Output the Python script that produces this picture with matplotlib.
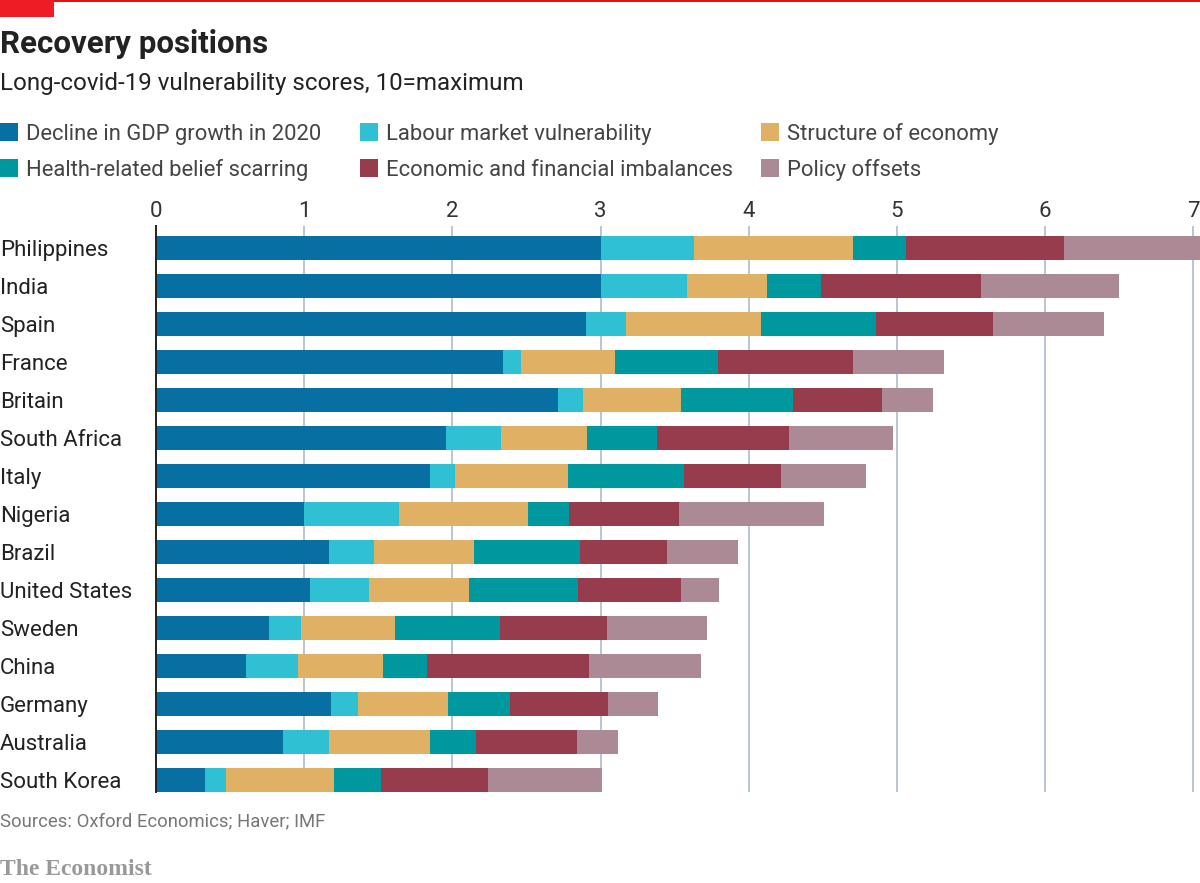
import matplotlib
matplotlib.use('Agg')
import numpy as np
import matplotlib.pyplot as plt
from matplotlib.patches import Rectangle

plt.rcParams['font.family'] = ['Roboto', 'DejaVu Sans']

# countries, top to bottom
countries = ['Philippines', 'India', 'Spain', 'France', 'Britain', 'South Africa', 'Italy',
             'Nigeria', 'Brazil', 'United States', 'Sweden', 'China', 'Germany', 'Australia',
             'South Korea']

# score of each component
gdp_decline = [3.00, 3.00, 2.90, 2.34, 2.71, 1.96, 1.85, 1.00, 1.17, 1.04, 0.76, 0.61, 1.18, 0.86, 0.33]
labour = [0.63, 0.58, 0.27, 0.12, 0.17, 0.37, 0.17, 0.64, 0.30, 0.40, 0.22, 0.35, 0.18, 0.31, 0.14]
structure = [1.07, 0.54, 0.91, 0.64, 0.66, 0.58, 0.76, 0.87, 0.675, 0.67, 0.63, 0.57, 0.61, 0.68, 0.73]
health = [0.36, 0.37, 0.78, 0.69, 0.76, 0.47, 0.78, 0.28, 0.715, 0.74, 0.71, 0.30, 0.42, 0.31, 0.32]
imbalances = [1.07, 1.08, 0.79, 0.91, 0.60, 0.89, 0.66, 0.74, 0.59, 0.69, 0.72, 1.09, 0.66, 0.68, 0.72]
policy = [0.95, 0.93, 0.75, 0.62, 0.34, 0.70, 0.57, 0.98, 0.48, 0.26, 0.68, 0.76, 0.34, 0.28, 0.77]

series_names = ['Decline in GDP growth in 2020', 'Labour market vulnerability', 'Structure of economy',
                'Health-related belief scarring', 'Economic and financial imbalances', 'Policy offsets']
series = [gdp_decline, labour, structure, health, imbalances, policy]
colours = ['#076fa2', '#2fc1d3', '#e0b165', '#00989f', '#963c4c', '#ab8a95']
x_ticks = [0, 1, 2, 3, 4, 5, 6, 7]

W, H = 1200, 883
fig = plt.figure(figsize=(W / 100, H / 100), dpi=100, facecolor='white')

# axes placed in pixel terms
ax = fig.add_axes([156 / W, 1 - 792 / H, (W - 156) / W, (792 - 226) / H])

y = np.arange(len(countries))
left = np.zeros(len(countries))
for vals, col in zip(series, colours):
    ax.barh(y, vals, left=left, height=0.61, color=col, linewidth=0, zorder=3)
    left += np.array(vals)

ax.set_xlim(0, 1044 / 148.2)
ax.set_ylim(14 + 12 / 38, -22 / 38)

for s in ['top', 'right', 'bottom']:
    ax.spines[s].set_visible(False)
ax.spines['left'].set_color('#222222')
ax.spines['left'].set_linewidth(1.4)
ax.spines['left'].set_zorder(5)

ax.xaxis.tick_top()
ax.set_xticks(x_ticks)
ax.tick_params(axis='x', length=0, pad=3, labelsize=16, labelcolor='#333333')
ax.grid(axis='x', color='#b7c6d2', linewidth=1.4, zorder=1)
ax.set_axisbelow(True)

ax.set_yticks(y)
ax.set_yticklabels(countries, ha='left', fontsize=16, color='#222222')
# pad is in points, 156 px back to the left edge
ax.tick_params(axis='y', length=0, pad=156 * 0.72)

# red rule and tag at the top
fig.add_artist(Rectangle((0, 1 - 2 / H), 1, 2 / H, transform=fig.transFigure, color='#e3120b', lw=0))
fig.add_artist(Rectangle((0, 1 - 17 / H), 54 / W, 17 / H, transform=fig.transFigure, color='#ee1c25', lw=0))


def put(x, y_px, s, **kw):
    fig.text(x / W, 1 - y_px / H, s, va='baseline', ha='left', **kw)


put(0, 53, 'Recovery positions', fontsize=22.5, fontweight='bold', color='#222222')
put(0, 90, 'Long-covid-19 vulnerability scores, 10=maximum', fontsize=17.4, color='#222222')

# legend by hand, the columns are not evenly spaced
legend_x = [0, 360, 761, 0, 360, 761]
legend_y = [132, 132, 132, 168, 168, 168]
order = [0, 1, 2, 3, 4, 5]
for i, lx, ly in zip(order, legend_x, legend_y):
    fig.add_artist(Rectangle((lx / W, 1 - (ly + 9) / H), 18 / W, 18 / H, transform=fig.transFigure,
                             color=colours[i], lw=0))
    put(lx + 26, ly + 8, series_names[i], fontsize=15.8, color='#444444')

put(0, 826, 'Sources: Oxford Economics; Haver; IMF', fontsize=13.3, color='#777777')
put(0, 875, 'The Economist', fontsize=17, fontweight='bold', color='#999999', family='Liberation Serif')

fig.savefig('out.png', dpi=100)
